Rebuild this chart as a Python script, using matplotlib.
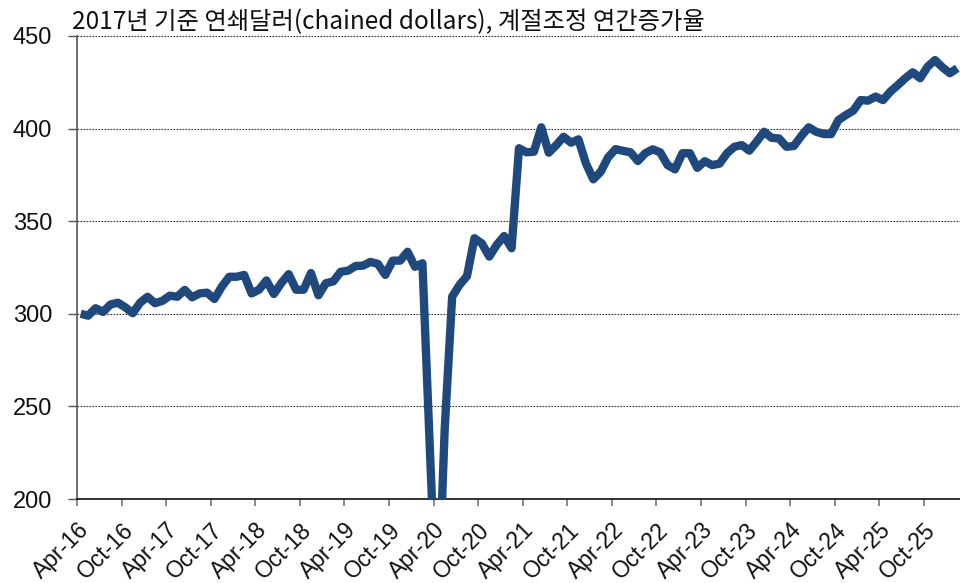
import matplotlib
matplotlib.use("Agg")
import matplotlib.pyplot as plt
import numpy as np

title = "2017년 기준 연쇄달러(chained dollars), 계절조정 연간증가율"

tick_labels = ["Apr-16", "Oct-16", "Apr-17", "Oct-17", "Apr-18", "Oct-18", "Apr-19", "Oct-19",
               "Apr-20", "Oct-20", "Apr-21", "Oct-21", "Apr-22", "Oct-22", "Apr-23", "Oct-23",
               "Apr-24", "Oct-24", "Apr-25", "Oct-25"]

# monthly values, Apr-16 .. Feb-26
values = [
    300, 299, 303, 301, 305, 306, 303.5, 300.3, 306, 309.2,      # Apr-16 .. Jan-17
    305.7, 307, 309.8, 309.2, 312.9, 308.9, 311, 311.4, 308, 314.7,  # Feb-17 .. Nov-17
    320, 320, 321, 311, 313, 318, 310.7, 316.6, 321.4, 313,      # Dec-17 .. Sep-18
    313, 322, 310, 316.5, 317.5, 322.7, 323.3, 325.8, 326, 328,  # Oct-18 .. Jul-19
    327, 321, 328.7, 328.7, 333.5, 325.4, 327.3, 227, 130, 238,  # Aug-19 .. May-20
    309.2, 315.6, 320.4, 340.8, 338, 330.9, 337.2, 342, 335.4, 389.4,  # Jun-20 .. Mar-21
    387.2, 387.5, 400.7, 387, 391, 395.6, 392.4, 394.2, 381.3, 372.6,  # Apr-21 .. Jan-22
    376.7, 384.5, 388.9, 388, 387.2, 382.5, 386.7, 388.8, 387.2, 380.3,  # Feb-22 .. Nov-22
    378, 386.7, 386.7, 378.8, 382.4, 380.3, 381.1, 386.7, 390.2, 391.1,  # Dec-22 .. Sep-23
    388.1, 393, 398.3, 395, 394.7, 390.2, 390.6, 396, 400.7, 398.3,      # Oct-23 .. Jul-24
    397.1, 397, 404.6, 407.3, 409.7, 415.4, 415.1, 417.3, 415.4, 420,    # Aug-24 .. May-25
    423.5, 427.2, 430.4, 427.2, 433.4, 437, 433.1, 429.9, 432.6          # Jun-25 .. Feb-26
]

line_color = "#1F497D"

fig = plt.figure(figsize=(9.6, 5.83), dpi=100)
ax = fig.add_axes([77 / 960, 1 - 499 / 583, (961 - 77) / 960, (499 - 36) / 583])

x = np.arange(len(values)) + 0.5
ax.plot(x, values, color=line_color, lw=6.0, solid_joinstyle="round", solid_capstyle="butt", zorder=3)

ax.set_xlim(0, len(values))
ax.set_ylim(200, 450)
ax.set_yticks([200, 250, 300, 350, 400, 450])
ax.set_xticks(np.arange(len(tick_labels)) * 6)
ax.set_xticklabels(tick_labels, rotation=45, ha="right", va="top", rotation_mode="anchor",
                   fontsize=16.5, family="Liberation Sans")
for lab in ax.get_yticklabels():
    lab.set_fontsize(17)
    lab.set_family("Liberation Sans")

for yv in [250, 300, 350, 400, 450]:
    ax.axhline(yv, color="#333333", lw=0.8, ls=(0, (1.5, 1.2)), zorder=1, clip_on=False)

for s in ["top", "right"]:
    ax.spines[s].set_visible(False)
ax.spines["left"].set_color("#555555")
ax.spines["left"].set_linewidth(1.2)
ax.spines["bottom"].set_color("#111111")
ax.spines["bottom"].set_linewidth(1.2)
ax.tick_params(axis="y", length=6.5, width=1.0, color="#555555", pad=11.5, labelcolor="#111111")
ax.tick_params(axis="x", length=5, width=1.2, color="#777777", pad=9, labelcolor="#111111")

fig.text(72 / 960, 1 - 22 / 583, title, fontsize=17.5, va="center", ha="left",
         family=["Noto Sans CJK KR", "DejaVu Sans"], color="#111111")

fig.savefig("out.png", dpi=100)
